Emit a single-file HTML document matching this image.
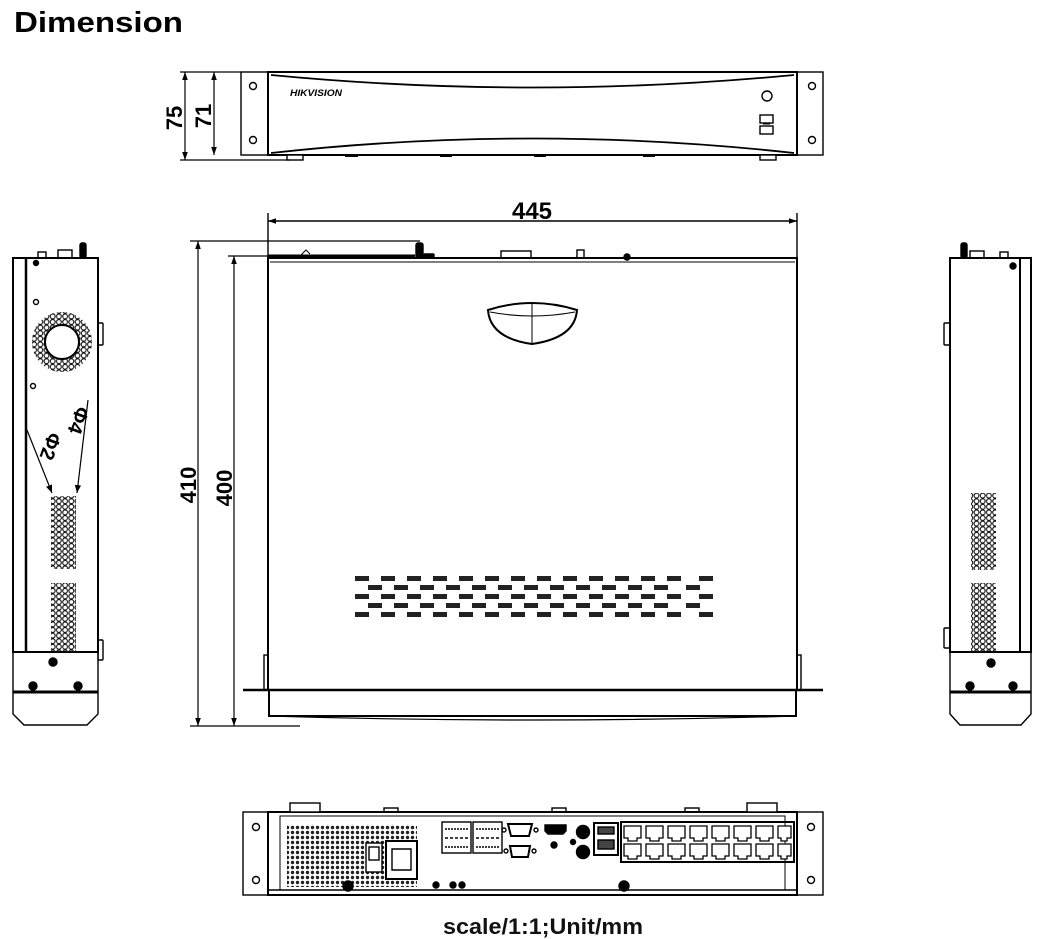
<!DOCTYPE html>
<html><head><meta charset="utf-8"><style>
html,body{margin:0;padding:0;background:#fff;}
svg{display:block}
</style></head><body>
<svg width="1054" height="939" viewBox="0 0 1054 939" xmlns="http://www.w3.org/2000/svg" font-family="Liberation Sans, sans-serif">
<defs>
<pattern id="holes" x="0" y="0" width="6.2" height="5.6" patternUnits="userSpaceOnUse">
<circle cx="3.1" cy="2.8" r="2.4" fill="none" stroke="#111" stroke-width="1.1"/>
</pattern>
<pattern id="dots" x="0" y="0" width="5" height="5" patternUnits="userSpaceOnUse">
<circle cx="2.5" cy="2.5" r="1.7" fill="#222"/>
</pattern>
<marker id="ah" viewBox="0 0 10 10" refX="10" refY="5" markerWidth="8" markerHeight="8" orient="auto-start-reverse" markerUnits="userSpaceOnUse">
<path d="M0,1 L10,5 L0,9 Z" fill="#000"/>
</marker>
<marker id="ah2" viewBox="0 0 10 10" refX="10" refY="5" markerWidth="16" markerHeight="8" orient="auto-start-reverse" markerUnits="userSpaceOnUse">
<path d="M0,1.5 L10,5 L0,8.5 Z" fill="#000"/>
</marker>
</defs>

<text x="14" y="32" font-size="29" font-weight="bold" fill="#000" textLength="169" lengthAdjust="spacingAndGlyphs">Dimension</text>

<!-- FRONT VIEW -->
<g stroke="#000" fill="none" stroke-width="1.4">
<rect x="241" y="72" width="27" height="83"/>
<rect x="797" y="72" width="26" height="83"/>
<circle cx="253" cy="86" r="3.5"/><circle cx="253" cy="140" r="3.5"/>
<circle cx="812" cy="86" r="3.5"/><circle cx="812" cy="140" r="3.5"/>
<rect x="268" y="72" width="529" height="83" stroke-width="2"/>
<path d="M271,75 Q532,100 794,75" stroke-width="1.8"/>
<path d="M271,153 Q532,124 794,153" stroke-width="1.8"/>
<circle cx="767" cy="96" r="5"/>
<rect x="760" y="115" width="13" height="8"/><rect x="760" y="126" width="13" height="8"/>
<line x1="763" y1="124" x2="770" y2="124" stroke-width="1"/>
<rect x="287" y="155" width="16" height="5" fill="#fff"/>
<rect x="760" y="155" width="16" height="5" fill="#fff"/>
<line x1="345" y1="156" x2="358" y2="156" stroke-width="2"/>
<line x1="440" y1="156" x2="452" y2="156" stroke-width="2"/>
<line x1="534" y1="156" x2="546" y2="156" stroke-width="2"/>
<line x1="643" y1="156" x2="655" y2="156" stroke-width="2"/>
</g>
<text x="290" y="96" font-size="9" font-weight="bold" font-style="italic" fill="#000" textLength="52" lengthAdjust="spacingAndGlyphs">HIKVISION</text>
<g stroke="#000" stroke-width="1.2">
<line x1="180" y1="72" x2="241" y2="72"/>
<line x1="180" y1="160" x2="290" y2="160"/>
<line x1="185" y1="72" x2="185" y2="160" marker-start="url(#ah2)" marker-end="url(#ah2)"/>
<line x1="214" y1="72" x2="214" y2="155" marker-start="url(#ah2)" marker-end="url(#ah2)"/>
</g>
<text transform="translate(182,118) rotate(-90)" font-size="22" font-weight="bold" text-anchor="middle">75</text>
<text transform="translate(211,116) rotate(-90)" font-size="22" font-weight="bold" text-anchor="middle">71</text>

<!-- TOP VIEW -->
<g stroke="#000" fill="none" stroke-width="1.4">
<line x1="268" y1="213" x2="268" y2="258"/>
<line x1="797" y1="213" x2="797" y2="258"/>
<line x1="268" y1="221" x2="797" y2="221" marker-start="url(#ah2)" marker-end="url(#ah2)"/>
<rect x="268" y="258" width="529" height="432" stroke-width="2"/>
<line x1="270" y1="262" x2="795" y2="262" stroke-width="1"/>
<path d="M268,256 L415,256" stroke-width="3"/>
<rect x="416" y="243" width="7" height="15" rx="2" fill="#000"/>
<rect x="424" y="254" width="10" height="4" rx="1" fill="#000"/>
<rect x="501" y="251" width="30" height="7"/>
<rect x="577" y="250" width="7" height="8"/>
<circle cx="627" cy="257" r="3" fill="#000"/>
<path d="M300,256 L306,250 L310,254" stroke-width="1"/>
<path d="M488,310 Q532,296 577,310 Q575,338 532,344 Q490,338 488,310 Z" stroke-width="2"/>
<path d="M490,312 Q532,320 575,312" stroke-width="1"/>
<line x1="532" y1="302" x2="532" y2="344" stroke-width="1"/>
<rect x="264" y="655" width="4" height="35"/>
<rect x="797" y="655" width="4" height="35"/>
<line x1="243" y1="690" x2="823" y2="690" stroke-width="2.5"/>
<path d="M269,690 L269,716 L796,716 L796,690" stroke-width="2"/>
<path d="M269,716 Q532,724 796,716" stroke-width="1.2"/>
<line x1="190" y1="241" x2="420" y2="241" stroke-width="1.2"/>
<line x1="228" y1="256" x2="268" y2="256" stroke-width="1.2"/>
<line x1="190" y1="726" x2="300" y2="726" stroke-width="1.2"/>
<line x1="198" y1="241" x2="198" y2="726" stroke-width="1.2" marker-start="url(#ah2)" marker-end="url(#ah2)"/>
<line x1="234" y1="256" x2="234" y2="726" stroke-width="1.2" marker-start="url(#ah2)" marker-end="url(#ah2)"/>
</g>
<text x="532" y="219" font-size="24" font-weight="bold" text-anchor="middle">445</text>
<text transform="translate(196,485) rotate(-90)" font-size="22" font-weight="bold" text-anchor="middle">410</text>
<text transform="translate(232,488) rotate(-90)" font-size="22" font-weight="bold" text-anchor="middle">400</text>
<g fill="#222">
<g id="vr1">
<rect x="355" y="576" width="14" height="5"/><rect x="381" y="576" width="14" height="5"/><rect x="407" y="576" width="14" height="5"/><rect x="433" y="576" width="14" height="5"/><rect x="459" y="576" width="14" height="5"/><rect x="485" y="576" width="14" height="5"/><rect x="511" y="576" width="14" height="5"/><rect x="537" y="576" width="14" height="5"/><rect x="563" y="576" width="14" height="5"/><rect x="589" y="576" width="14" height="5"/><rect x="615" y="576" width="14" height="5"/><rect x="641" y="576" width="14" height="5"/><rect x="667" y="576" width="14" height="5"/><rect x="699" y="576" width="14" height="5"/>
</g>
<g id="vr2">
<rect x="368" y="585" width="14" height="5"/><rect x="394" y="585" width="14" height="5"/><rect x="420" y="585" width="14" height="5"/><rect x="446" y="585" width="14" height="5"/><rect x="472" y="585" width="14" height="5"/><rect x="498" y="585" width="14" height="5"/><rect x="524" y="585" width="14" height="5"/><rect x="550" y="585" width="14" height="5"/><rect x="576" y="585" width="14" height="5"/><rect x="602" y="585" width="14" height="5"/><rect x="628" y="585" width="14" height="5"/><rect x="654" y="585" width="14" height="5"/><rect x="686" y="585" width="14" height="5"/>
</g>
<use href="#vr1" y="18"/><use href="#vr2" y="18"/><use href="#vr1" y="36"/>
</g>

<!-- LEFT SIDE VIEW -->
<g stroke="#000" fill="none" stroke-width="1.4">
<rect x="13" y="258" width="85" height="394" stroke-width="2"/>
<line x1="26" y1="258" x2="26" y2="652" stroke-width="2.5"/>
<rect x="13" y="652" width="85" height="40"/>
<line x1="13" y1="692" x2="98" y2="692" stroke-width="3"/>
<path d="M13,692 L13,714 L24,725 L87,725 L98,714 L98,692"/>
<rect x="98" y="323" width="5" height="22" rx="1"/>
<rect x="98" y="640" width="5" height="20" rx="1"/>
<rect x="38" y="252" width="8" height="6"/><rect x="58" y="250" width="14" height="8"/>
<rect x="80" y="243" width="6" height="15" rx="2" fill="#000"/>
<circle cx="36" cy="302" r="2.5"/><circle cx="33" cy="386" r="2.5"/>
<circle cx="36" cy="263" r="2.5" fill="#000"/>
<circle cx="62" cy="342" r="30" fill="url(#holes)" stroke="none"/>
<circle cx="62" cy="342" r="17" fill="#fff" stroke="#000" stroke-width="2"/>
<rect x="51" y="496" width="25" height="73" fill="url(#holes)" stroke="none"/>
<rect x="51" y="583" width="25" height="69" fill="url(#holes)" stroke="none"/>
<line x1="27" y1="430" x2="52" y2="493" stroke-width="1.2" marker-end="url(#ah)"/>
<line x1="88" y1="400" x2="77" y2="493" stroke-width="1.2" marker-end="url(#ah)"/>
<circle cx="53" cy="662" r="4" fill="#000"/>
<circle cx="33" cy="686" r="4" fill="#000"/><circle cx="78" cy="686" r="4" fill="#000"/>
</g>
<text transform="translate(44,444) rotate(110)" font-size="20" font-weight="bold" text-anchor="middle">Φ2</text>
<text transform="translate(72,418) rotate(110)" font-size="20" font-weight="bold" text-anchor="middle">Φ4</text>

<!-- RIGHT SIDE VIEW -->
<g stroke="#000" fill="none" stroke-width="1.4">
<rect x="950" y="258" width="81" height="394" stroke-width="2"/>
<line x1="1020" y1="258" x2="1020" y2="652" stroke-width="2"/>
<rect x="950" y="652" width="81" height="40"/>
<line x1="950" y1="692" x2="1031" y2="692" stroke-width="3"/>
<path d="M950,692 L950,714 L960,725 L1021,725 L1031,714 L1031,692"/>
<rect x="944" y="323" width="6" height="22" rx="1"/>
<rect x="944" y="628" width="6" height="20" rx="1"/>
<rect x="961" y="243" width="6" height="15" rx="2" fill="#000"/>
<rect x="970" y="251" width="14" height="7"/><rect x="1000" y="252" width="8" height="6"/>
<circle cx="1013" cy="266" r="3" fill="#000"/>
<rect x="971" y="493" width="25" height="77" fill="url(#holes)" stroke="none"/>
<rect x="971" y="583" width="25" height="69" fill="url(#holes)" stroke="none"/>
<circle cx="991" cy="663" r="4" fill="#000"/>
<circle cx="970" cy="686" r="4" fill="#000"/><circle cx="1013" cy="686" r="4" fill="#000"/>
</g>

<!-- REAR VIEW -->
<g stroke="#000" fill="none" stroke-width="1.4">
<rect x="243" y="812" width="25" height="83"/>
<rect x="797" y="812" width="26" height="83"/>
<circle cx="256" cy="827" r="3.5"/><circle cx="256" cy="880" r="3.5"/>
<circle cx="811" cy="827" r="3.5"/><circle cx="811" cy="880" r="3.5"/>
<rect x="268" y="812" width="529" height="83" stroke-width="2"/>
<line x1="268" y1="890" x2="797" y2="890"/>
<rect x="280" y="816" width="505" height="74" stroke-width="1"/>
<rect x="290" y="803" width="30" height="9" fill="#fff"/>
<rect x="747" y="803" width="30" height="9" fill="#fff"/>
<rect x="384" y="808" width="14" height="4"/><rect x="552" y="808" width="14" height="4"/><rect x="685" y="808" width="14" height="4"/>
<rect x="287" y="825" width="130" height="62" fill="url(#dots)" stroke="none"/>
<rect x="366" y="843" width="16" height="29" fill="#fff"/>
<rect x="369" y="847" width="10" height="13" fill="#fff"/>
<rect x="386" y="841" width="31" height="38" fill="#fff" stroke-width="2"/>
<path d="M392,849 L411,849 L411,870 L392,870 Z"/>
<circle cx="436" cy="885" r="3" fill="#000"/><circle cx="453" cy="885" r="3" fill="#000"/>
<circle cx="462" cy="885" r="3" fill="#000"/>
<rect x="442" y="822" width="29" height="31" fill="#fff"/>
<rect x="473" y="822" width="29" height="31" fill="#fff"/>
<line x1="445" y1="829" x2="468" y2="829" stroke-dasharray="2 1"/>
<line x1="445" y1="838" x2="468" y2="838" stroke-dasharray="3 2"/>
<line x1="445" y1="847" x2="468" y2="847" stroke-dasharray="2 1"/>
<line x1="476" y1="829" x2="499" y2="829" stroke-dasharray="2 1"/>
<line x1="476" y1="838" x2="499" y2="838" stroke-dasharray="3 2"/>
<line x1="476" y1="847" x2="499" y2="847" stroke-dasharray="2 1"/>
<path d="M508,824 L532,824 L529,836 L511,836 Z" stroke-width="2"/>
<circle cx="504" cy="830" r="2"/><circle cx="536" cy="830" r="2"/>
<path d="M510,846 L530,846 L528,857 L512,857 Z" stroke-width="2"/>
<circle cx="506" cy="851" r="2"/><circle cx="534" cy="851" r="2"/>
<path d="M545,825 L566,825 L566,831 L563,834 L548,834 L545,831 Z" fill="#000"/>
<circle cx="554" cy="845" r="3" fill="#000"/>
<circle cx="583" cy="832" r="6.5" fill="#000"/>
<circle cx="583" cy="852" r="6.5" fill="#000"/>
<circle cx="573" cy="842" r="2.5" fill="#000"/>
<rect x="594" y="823" width="24" height="32" stroke-width="2"/>
<rect x="598" y="827" width="16" height="7" fill="#444"/>
<rect x="598" y="840" width="16" height="9" fill="#444"/>
<rect x="621" y="822" width="173" height="40" stroke-width="2"/>
<circle cx="348" cy="886" r="5" fill="#000"/>
<circle cx="624" cy="886" r="5" fill="#000"/>
</g>
<g stroke="#000" fill="#fff" stroke-width="1.3">
<g id="rj">
<path d="M624,826 L641,826 L641,838 L637,838 L637,841 L628,841 L628,838 L624,838 Z"/>
<path d="M646,826 L663,826 L663,838 L659,838 L659,841 L650,841 L650,838 L646,838 Z"/>
<path d="M668,826 L685,826 L685,838 L681,838 L681,841 L672,841 L672,838 L668,838 Z"/>
<path d="M690,826 L707,826 L707,838 L703,838 L703,841 L694,841 L694,838 L690,838 Z"/>
<path d="M712,826 L729,826 L729,838 L725,838 L725,841 L716,841 L716,838 L712,838 Z"/>
<path d="M734,826 L751,826 L751,838 L747,838 L747,841 L738,841 L738,838 L734,838 Z"/>
<path d="M756,826 L773,826 L773,838 L769,838 L769,841 L760,841 L760,838 L756,838 Z"/>
<path d="M778,826 L791,826 L791,838 L787,838 L787,841 L781,841 L781,838 L778,838 Z"/>
</g>
<use href="#rj" y="18"/>
</g>

<text x="443" y="934" font-size="22" font-weight="bold" fill="#111" textLength="200" lengthAdjust="spacingAndGlyphs">scale/1:1;Unit/mm</text>
</svg>
</body></html>
